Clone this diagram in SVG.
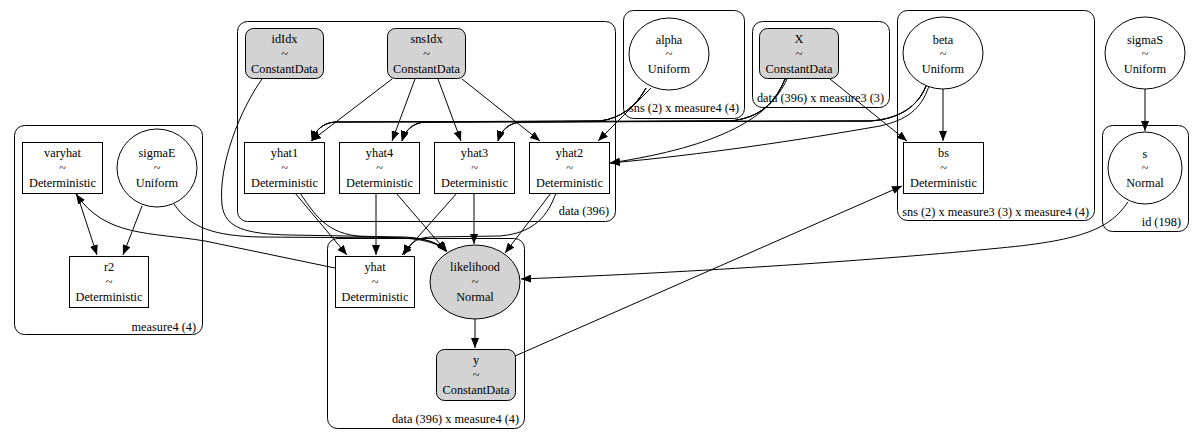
<svg xmlns="http://www.w3.org/2000/svg" width="1200" height="436" viewBox="0 0 1200 436">
<defs>
<marker id="ah" markerUnits="userSpaceOnUse" markerWidth="10" markerHeight="8" refX="10" refY="4" orient="auto">
<path d="M0,0 L10,4 L0,8 z" fill="#000"/>
</marker>
<style>
text{font-family:"Liberation Serif","Times New Roman",serif;font-size:12.3px;fill:#000}
.n text{text-anchor:middle}
.cl rect{fill:none;stroke:#000;stroke-width:1}
.cl text{text-anchor:end}
.e path{fill:none;stroke:#000;stroke-width:1;marker-end:url(#ah)}
.det{fill:#fff;stroke:#000;stroke-width:1}
.cd{fill:#d3d3d3;stroke:#000;stroke-width:1}
.rv{fill:#fff;stroke:#000;stroke-width:1}
.obs{fill:#d3d3d3;stroke:#000;stroke-width:1}
</style>
</defs>
<rect width="1200" height="436" fill="#fff"/>

<g id="clusters" class="cl">
<g id="cl_measure4"><rect x="14.5" y="125.5" width="188" height="209" rx="10"/><text x="196" y="331">measure4 (4)</text></g>
<g id="cl_data"><rect x="237.5" y="21.5" width="378" height="200" rx="10"/><text x="609" y="215">data (396)</text></g>
<g id="cl_sns_m4"><rect x="623.5" y="10.5" width="121" height="108" rx="10"/><text x="739" y="112">sns (2) x measure4 (4)</text></g>
<g id="cl_data_m3"><rect x="752.5" y="21.5" width="137" height="86" rx="10"/><text x="884" y="102">data (396) x measure3 (3)</text></g>
<g id="cl_sns_m3_m4"><rect x="897.5" y="10.5" width="197" height="210" rx="10"/><text x="1089" y="216">sns (2) x measure3 (3) x measure4 (4)</text></g>
<g id="cl_id"><rect x="1102.5" y="125.5" width="86" height="106" rx="10"/><text x="1181" y="226">id (198)</text></g>
<g id="cl_data_m4"><rect x="327.5" y="238.5" width="197" height="190" rx="10"/><text x="519" y="423">data (396) x measure4 (4)</text></g>
</g>

<g id="connectors" class="e">
<path d="M392,79 L311,141"/>
<path d="M415,79 L392,141"/>
<path d="M438,79 L461,141"/>
<path d="M462,79 L540,141"/>
<path d="M651,88 L598,141"/>
<path d="M646,88 C636,106 622,118 600,121 L335,122 C322,123 315,131 312,141"/>
<path d="M646,88 C636,106 622,118 600,121 L425,122 C412,123 405,131 402,141"/>
<path d="M646,88 C636,106 622,118 600,121 L521,122 C508,123 501,131 498,141"/>
<path d="M785,79 C775,103 760,118 730,121 L335,122 C322,123 315,131 312,141"/>
<path d="M785,79 C775,103 760,118 730,121 L425,122 C412,123 405,131 402,141"/>
<path d="M785,79 C775,103 760,118 730,121 L521,122 C508,123 501,131 498,141"/>
<path d="M787,79 C770,117 722,146 610,163"/>
<path d="M830,79 L907,141"/>
<path d="M926,86 C918,106 900,119 870,121 L335,122 C322,123 315,131 312,141"/>
<path d="M926,86 C918,106 900,119 870,121 L425,122 C412,123 405,131 402,141"/>
<path d="M926,86 C918,106 900,119 870,121 L521,122 C508,123 501,131 498,141"/>
<path d="M929,86 C921,110 906,120 880,126 C800,140 700,155 610,163"/>
<path d="M943,89 L943,141"/>
<path d="M1145,89 L1145,131"/>
<path d="M295,193 L347,255"/>
<path d="M300,193 C318,220 330,236 370,237 L410,238 C428,239 440,244 447,252"/>
<path d="M376,193 L376,255"/>
<path d="M396,193 L446,251"/>
<path d="M457,193 L402,255"/>
<path d="M474,193 L474,244"/>
<path d="M551,193 L505,253"/>
<path d="M556,193 C548,215 535,233 500,236 L430,237 C415,238 408,245 404,255"/>
<path d="M262,79 C240,110 218,165 222,205 C225,228 245,234 290,235 L405,237 C425,238 440,243 447,252"/>
<path d="M174,204 C190,228 215,236 260,237 L400,238 C425,239 440,244 447,252"/>
<path d="M142,206 L123,255"/>
<path d="M77,194 L97,255"/>
<path d="M335,268 L205,241 C150,232 105,237 76,194"/>
<path d="M1128,202 C1110,228 1085,240 1000,248 C880,260 700,272 521,279"/>
<path d="M475,319 L475,348"/>
<path d="M515,356 L902,186"/>
</g>

<g class="n">
<g id="varyhat"><rect class="det" x="22.5" y="142.5" width="80" height="51"/><text x="62.5" y="157">varyhat</text><text x="62.5" y="172">~</text><text x="62.5" y="187">Deterministic</text></g>
<g id="sigmaE"><ellipse class="rv" cx="157" cy="168" rx="40" ry="39"/><text x="157" y="157">sigmaE</text><text x="157" y="172">~</text><text x="157" y="187">Uniform</text></g>
<g id="r2"><rect class="det" x="69.5" y="256.5" width="79" height="51"/><text x="109" y="271">r2</text><text x="109" y="286">~</text><text x="109" y="301">Deterministic</text></g>
<g id="idIdx"><rect class="cd" x="245.5" y="28.5" width="78" height="50" rx="8"/><text x="284.5" y="43">idIdx</text><text x="284.5" y="58">~</text><text x="284.5" y="73">ConstantData</text></g>
<g id="snsIdx"><rect class="cd" x="387.5" y="28.5" width="78" height="50" rx="8"/><text x="426.5" y="43">snsIdx</text><text x="426.5" y="58">~</text><text x="426.5" y="73">ConstantData</text></g>
<g id="yhat1"><rect class="det" x="244.5" y="142.5" width="80" height="51"/><text x="284.5" y="157">yhat1</text><text x="284.5" y="172">~</text><text x="284.5" y="187">Deterministic</text></g>
<g id="yhat4"><rect class="det" x="339.5" y="142.5" width="80" height="51"/><text x="379.5" y="157">yhat4</text><text x="379.5" y="172">~</text><text x="379.5" y="187">Deterministic</text></g>
<g id="yhat3"><rect class="det" x="434.5" y="142.5" width="80" height="51"/><text x="474.5" y="157">yhat3</text><text x="474.5" y="172">~</text><text x="474.5" y="187">Deterministic</text></g>
<g id="yhat2"><rect class="det" x="529.5" y="142.5" width="80" height="51"/><text x="569.5" y="157">yhat2</text><text x="569.5" y="172">~</text><text x="569.5" y="187">Deterministic</text></g>
<g id="alpha"><ellipse class="rv" cx="669" cy="54" rx="40" ry="36"/><text x="669" y="44">alpha</text><text x="669" y="58">~</text><text x="669" y="73">Uniform</text></g>
<g id="X"><rect class="cd" x="759.5" y="28.5" width="79" height="50" rx="8"/><text x="799" y="43">X</text><text x="799" y="58">~</text><text x="799" y="73">ConstantData</text></g>
<g id="beta"><ellipse class="rv" cx="943" cy="53" rx="40" ry="36"/><text x="943" y="44">beta</text><text x="943" y="58">~</text><text x="943" y="73">Uniform</text></g>
<g id="sigmaS"><ellipse class="rv" cx="1145" cy="53" rx="40" ry="36"/><text x="1145" y="44">sigmaS</text><text x="1145" y="58">~</text><text x="1145" y="73">Uniform</text></g>
<g id="bs"><rect class="det" x="903.5" y="142.5" width="80" height="51"/><text x="943.5" y="157">bs</text><text x="943.5" y="172">~</text><text x="943.5" y="187">Deterministic</text></g>
<g id="s"><ellipse class="rv" cx="1145" cy="168" rx="37" ry="36"/><text x="1145" y="158">s</text><text x="1145" y="172">~</text><text x="1145" y="187">Normal</text></g>
<g id="yhat"><rect class="det" x="335.5" y="256.5" width="79" height="51"/><text x="375" y="271">yhat</text><text x="375" y="286">~</text><text x="375" y="301">Deterministic</text></g>
<g id="likelihood"><ellipse class="obs" cx="475" cy="282" rx="45" ry="37"/><text x="475" y="271">likelihood</text><text x="475" y="286">~</text><text x="475" y="301">Normal</text></g>
<g id="y"><rect class="cd" x="436.5" y="349.5" width="79" height="51" rx="8"/><text x="476" y="364">y</text><text x="476" y="379">~</text><text x="476" y="394">ConstantData</text></g>
</g>
</svg>
